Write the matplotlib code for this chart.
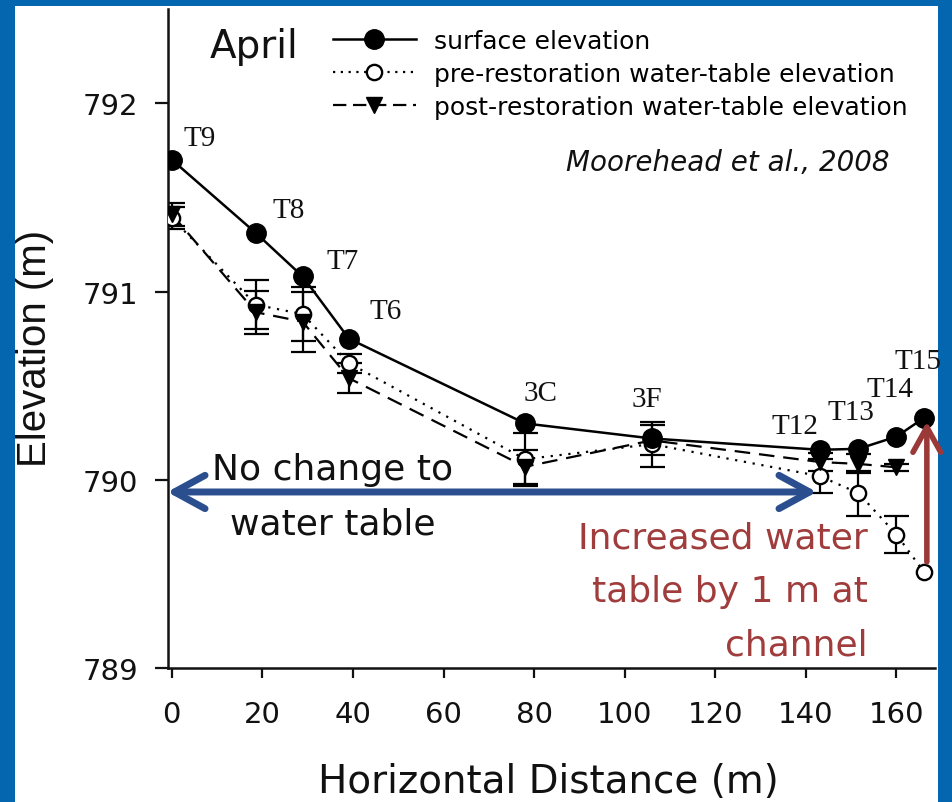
import matplotlib
matplotlib.use("Agg")
import matplotlib.pyplot as plt
from matplotlib.patches import Rectangle, FancyArrowPatch, ArrowStyle
from matplotlib.lines import Line2D

# ---------------- data ----------------
stations = ["T9", "T8", "T7", "T6", "3C", "3F", "T12", "T13", "T14", "T15"]
distance = [0, 18.6, 28.9, 39.1, 78.0, 106.0, 143.1, 151.6, 160.0, 166.1]
surface = [791.70, 791.31, 791.08, 790.75, 790.30, 790.22, 790.16, 790.165, 790.23, 790.33]

pre_water = [791.39, 790.93, 790.88, 790.62, 790.11, 790.19, 790.02, 789.93, 789.71, 789.51]
pre_err = [0.06, 0.13, 0.145, 0.05, 0.14, 0.12, 0.09, 0.12, 0.10, 0.0]

post_distance = [0, 18.6, 28.9, 39.1, 78.0, 106.0, 143.1, 151.6, 160.0]
post_water = [791.41, 790.89, 790.84, 790.54, 790.07, 790.21, 790.095, 790.085, 790.067]
post_err = [0.06, 0.115, 0.16, 0.08, 0.09, 0.08, 0.05, 0.05, 0.02]

xticks = [0, 20, 40, 60, 80, 100, 120, 140, 160]
yticks = [789, 790, 791, 792]

legend_labels = ["surface elevation",
                 "pre-restoration water-table elevation",
                 "post-restoration water-table elevation"]

# label offsets (pixels) of station names relative to surface points
label_offsets = [(28, 22), (33, 23), (40, 15), (37, 28), (15, 30),
                 (-5, 39), (-25, 24), (-8, 37), (-6, 48), (-6, 57)]

# ---------------- figure ----------------
W, H = 953, 803
fig = plt.figure(figsize=(W / 100, H / 100), dpi=100, facecolor="#0566B0")
panel = Rectangle((15 / W, 0), (938 - 15) / W, (H - 7) / H, transform=fig.transFigure,
                  facecolor="white", edgecolor="none", zorder=-10)
fig.add_artist(panel)

ax = fig.add_axes([167.7 / W, (H - 669.3) / H, 767.3 / W, 659.3 / H])
ax.set_facecolor("none")
ax.set_xlim(-0.9, 168.5)
ax.set_ylim(789, 792.5)

for s in ["top", "right"]:
    ax.spines[s].set_visible(False)
for s in ["left", "bottom"]:
    ax.spines[s].set_linewidth(1.8)
    ax.spines[s].set_color("#111111")

ax.set_xticks(xticks)
ax.set_yticks(yticks)
ax.tick_params(axis="x", direction="out", length=7.5, width=1.6, pad=15,
               labelsize=21, colors="#111111")
ax.tick_params(axis="y", direction="out", length=9.5, width=1.6, pad=12,
               labelsize=21, colors="#111111")

# pre-restoration (open circles, dotted)
ax.plot(distance, pre_water, color="k", lw=1.6, ls=(0, (1, 3)), zorder=2)
idx = [i for i, e in enumerate(pre_err) if e > 0]
ax.errorbar([distance[i] for i in idx], [pre_water[i] for i in idx],
            yerr=[pre_err[i] for i in idx], fmt="none", ecolor="k",
            elinewidth=1.6, capsize=9, capthick=1.6, zorder=2)
ax.plot(distance, pre_water, ls="none", marker="o", ms=11, mfc="white",
        mec="k", mew=1.7, zorder=3)

# post-restoration (filled triangles, dashed)
ax.plot(post_distance, post_water, color="k", lw=1.6, ls=(0, (7, 4)), zorder=2)
ax.errorbar(post_distance, post_water, yerr=post_err, fmt="none", ecolor="k",
            elinewidth=1.6, capsize=9, capthick=1.6, zorder=2)
ax.plot(post_distance, post_water, ls="none", marker="v", ms=12, color="k", zorder=4)

# surface elevation
ax.plot(distance, surface, color="k", lw=1.8, marker="o", ms=14, zorder=5)

# station labels
for name, x, y, off in zip(stations, distance, surface, label_offsets):
    ax.annotate(name, (x, y), xytext=off, textcoords="offset pixels",
                ha="center", va="center", fontsize=21,
                family="Liberation Serif", color="#111111", zorder=6)

# axis labels
ax.set_xlabel("Horizontal Distance (m)", fontsize=28, va="center", color="#111111")
ax.xaxis.set_label_coords((548 - 167.7) / 767.3, (669.3 - 782) / 659.3)
ax.set_ylabel("Elevation (m)", fontsize=29, family="Liberation Sans", va="center",
              color="#111111")
ax.yaxis.set_label_coords((35 - 167.7) / 767.3, (669.3 - 348) / 659.3)

# legend
handles = [
    Line2D([], [], color="k", lw=1.8, marker="o", ms=14),
    Line2D([], [], color="k", lw=1.6, ls=(0, (1, 2.5)), marker="o", ms=11,
           mfc="white", mec="k", mew=1.7),
    Line2D([], [], color="k", lw=1.6, ls=(0, (6, 3)), marker="v", ms=12),
]
fig.legend(handles, legend_labels, loc="upper left",
           bbox_to_anchor=(333 / W, 1 - 30 / H), frameon=False, fontsize=18,
           handlelength=3.3, handletextpad=0.75, labelspacing=0.35,
           borderpad=0, borderaxespad=0)

fig.text(210 / W, 1 - 58 / H, "April", fontsize=28, ha="left", va="baseline",
         color="#111111")
fig.text(890 / W, 1 - 163 / H, "Moorehead et al., 2008", fontsize=20,
         style="italic", ha="right", va="center", color="#111111")

# annotations
blue = FancyArrowPatch((-1.0, 789.936), (142.4, 789.936),
                       arrowstyle=ArrowStyle("<->", head_length=22, head_width=12),
                       mutation_scale=1, lw=5, color="#2B4F8E",
                       shrinkA=0, shrinkB=0, capstyle="round", joinstyle="round",
                       clip_on=False, zorder=7)
ax.add_patch(blue)
ax.text(35.6, 789.915, "No change to\nwater table", fontsize=26, ha="center",
        va="center", linespacing=1.75, color="#111111", zorder=8)

red = FancyArrowPatch((166.7, 789.565), (166.7, 790.31),
                      arrowstyle=ArrowStyle("->", head_length=18, head_width=10),
                      mutation_scale=1, lw=4, color="#9B3838",
                      shrinkA=0, shrinkB=0, capstyle="round", joinstyle="round",
                      clip_on=False, zorder=7)
ax.add_patch(red)
ax.text(153.7, 789.41, "Increased water\ntable by 1 m at\nchannel", fontsize=26,
        ha="right", va="center", multialignment="right", linespacing=1.72,
        color="#A03C3C", zorder=8)

fig.savefig("out.png", dpi=100, facecolor=fig.get_facecolor())
